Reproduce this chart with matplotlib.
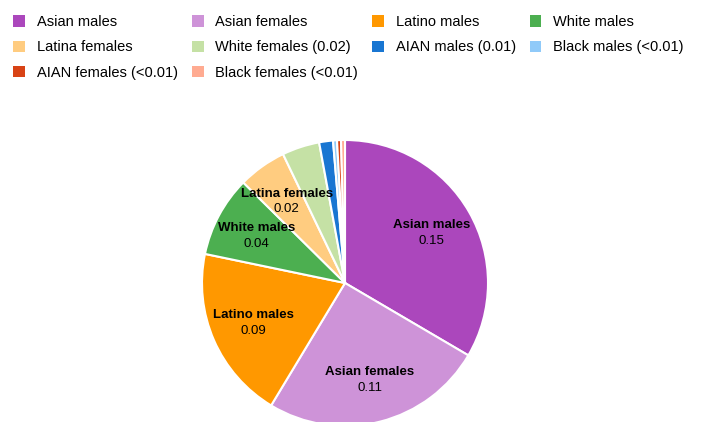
import matplotlib
matplotlib.use('Agg')
import matplotlib.pyplot as plt
from matplotlib.patches import Patch
import numpy as np

plt.rcParams['font.family'] = ['Liberation Sans', 'DejaVu Sans']

# slice data, clockwise from 12 o'clock
groups = ['Asian males', 'Asian females', 'Latino males', 'White males',
          'Latina females', 'White females', 'AIAN males', 'Black males',
          'AIAN females', 'Black females']
values = [0.150, 0.113, 0.088, 0.041, 0.0245, 0.019, 0.007, 0.002, 0.002, 0.002]
legend_labels = ['Asian males', 'Asian females', 'Latino males', 'White males',
                 'Latina females', 'White females (0.02)', 'AIAN males (0.01)',
                 'Black males (<0.01)', 'AIAN females (<0.01)', 'Black females (<0.01)']
colors = ['#AB47BC', '#CE93D8', '#FF9800', '#4CAF50', '#FFCC80',
          '#C5E1A5', '#1976D2', '#90CAF9', '#D84315', '#FFAB91']

fig = plt.figure(figsize=(7.04, 4.22), dpi=100)

# pie centre ~ (345, 283) px, radius ~143 px
cx, cy, r = 345, 283, 143
ax = fig.add_axes([(cx - r) / 704, (422 - cy - r) / 422, 2 * r / 704, 2 * r / 422])
wedges, _ = ax.pie(values, colors=colors, startangle=90, counterclock=False,
                   wedgeprops=dict(edgecolor='white', linewidth=1.5))
ax.set_xlim(-1, 1)
ax.set_ylim(-1, 1)

# in-slice labels for the bigger slices
total = sum(values)
for w, name, v in zip(wedges, groups, values):
    if v / total < 0.05:
        continue
    ang = np.deg2rad((w.theta1 + w.theta2) / 2)
    x, y = 0.7 * np.cos(ang), 0.7 * np.sin(ang)
    ax.text(x, y + 0.055, name, ha='center', va='center', fontsize=9.5,
            fontweight='bold', color='#000000')
    ax.text(x, y - 0.055, f'{v:.2f}', ha='center', va='center', fontsize=9.5,
            color='#000000')

# legend in row order (4 columns)
handles = [Patch(facecolor=c, edgecolor='none') for c in colors]
order = [0, 4, 8, 1, 5, 9, 2, 6, 3, 7]
fig.legend([handles[i] for i in order], [legend_labels[i] for i in order],
           loc='upper left', bbox_to_anchor=(3 / 704, 1 - 5 / 422), ncol=4,
           frameon=False, fontsize=10.5, handlelength=0.82, handleheight=0.82,
           handletextpad=0.8, columnspacing=0.95, labelspacing=0.77,
           borderaxespad=0.3)

fig.savefig('out.png', dpi=100)
